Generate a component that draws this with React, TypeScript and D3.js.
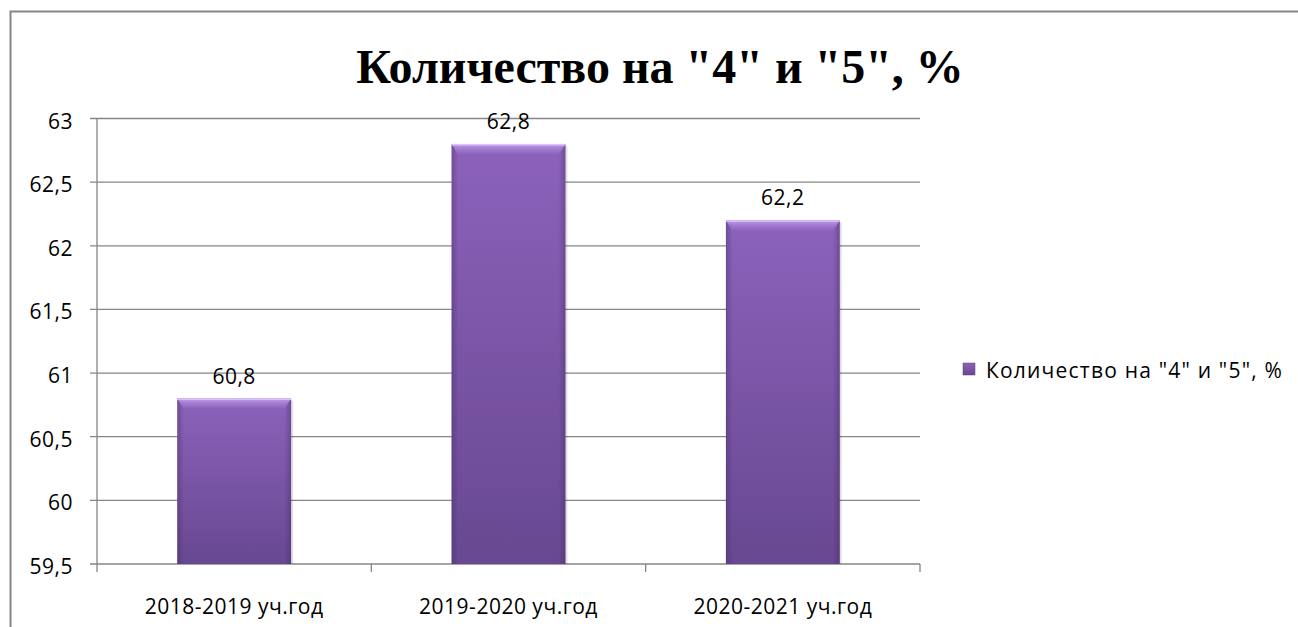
import React from "react";
import * as d3 from "d3";

const categories: string[] = ["2018-2019 уч.год", "2019-2020 уч.год", "2020-2021 уч.год"];
const values: number[] = [60.8, 62.8, 62.2];
const yTicks: number[] = [59.5, 60, 60.5, 61, 61.5, 62, 62.5, 63];
const seriesName = 'Количество на "4" и "5", %';
const title = 'Количество на "4" и "5", %';

const W = 1298;
const H = 627;
const font = "'Open Sans', sans-serif";
const fs = 21;
const ls = 0.5;
const fmt = (v: number) => String(v).replace(".", ",");

export default function App() {
  const left = 97;
  const right = 920;
  const top = 118.5;
  const bottom = 564;
  const x = d3.scaleBand<string>().domain(categories).range([left, right]).paddingInner(0.585).paddingOuter(0.2925);
  const xb = d3.scaleBand<string>().domain(categories).range([left, right]);
  const y = d3.scaleLinear().domain([59.5, 63]).range([bottom, top]);
  const bw = x.bandwidth();

  return (
    <div style={{ position: "absolute", left: 0, top: 0 }}>
      <svg width={W} height={H} style={{ display: "block" }}>
        <defs>
          <linearGradient id="barV" x1="0" y1="0" x2="0" y2="1">
            <stop offset="0" stopColor="#8c62bb" />
            <stop offset="1" stopColor="#684891" />
          </linearGradient>
          <linearGradient id="barH" x1="0" y1="0" x2="1" y2="0">
            <stop offset="0" stopColor="#3c2458" stopOpacity="0.35" />
            <stop offset="0.06" stopColor="#3c2458" stopOpacity="0" />
            <stop offset="0.94" stopColor="#3c2458" stopOpacity="0" />
            <stop offset="1" stopColor="#3c2458" stopOpacity="0.35" />
          </linearGradient>
          <linearGradient id="bevel" x1="0" y1="0" x2="0" y2="1">
            <stop offset="0" stopColor="#c8a8f0" stopOpacity="0.9" />
            <stop offset="1" stopColor="#a27ad6" stopOpacity="0.2" />
          </linearGradient>
        </defs>
        <rect x={0} y={0} width={W} height={H} fill="#ffffff" />
        <path d={`M10.5,${H} L10.5,11.5 L${W},11.5`} fill="none" stroke="#868686" strokeWidth={2} />
        <text x={660} y={83} textAnchor="middle" fontFamily="'Liberation Serif', 'Times New Roman', serif" fontWeight="bold" fontSize={48} fill="#000">
          {title}
        </text>
        {yTicks.map((t) => (
          <g key={t}>
            <line x1={left - 7} x2={right} y1={y(t)} y2={y(t)} stroke="#868686" strokeWidth={1.3} />
            <text x={left - 24} y={y(t) + 2} textAnchor="end" dominantBaseline="central" fontFamily={font} fontSize={fs} letterSpacing={ls} fill="#000">
              {fmt(t)}
            </text>
          </g>
        ))}
        <line x1={left} x2={left} y1={top} y2={bottom} stroke="#868686" strokeWidth={1.3} />
        {[left, ...categories.map((c) => (xb(c) as number) + xb.bandwidth())].map((px, i) => (
          <line key={i} x1={px} x2={px} y1={bottom} y2={bottom + 8} stroke="#868686" strokeWidth={1.3} />
        ))}
        {categories.map((c, i) => {
          const bx = x(c) as number;
          const by = y(values[i]);
          const bh = bottom - by;
          return (
            <g key={c}>
              <rect x={bx + 2} y={by + 2} width={bw} height={bh - 2} fill="#000" opacity={0.12} />
              <rect x={bx} y={by} width={bw} height={bh} fill="url(#barV)" />
              <rect x={bx} y={by} width={bw} height={bh} fill="url(#barH)" />
              <path
                d={`M${bx},${by} L${bx + bw},${by} L${bx + bw - 6},${by + 10} L${bx + 6},${by + 10} Z`}
                fill="url(#bevel)"
              />
              <rect x={bx} y={by} width={bw} height={1.5} fill="#d9c4f5" />
              <text x={bx + bw / 2} y={by - 23} textAnchor="middle" dominantBaseline="central" fontFamily={font} fontSize={fs} letterSpacing={ls} fill="#000">
                {fmt(values[i])}
              </text>
              <text x={(xb(c) as number) + xb.bandwidth() / 2} y={606} textAnchor="middle" dominantBaseline="central" fontFamily={font} fontSize={fs} letterSpacing={ls} fill="#000">
                {c}
              </text>
            </g>
          );
        })}
        <rect x={963} y={363} width={12} height={12} fill="url(#barV)" stroke="#5a3d80" strokeWidth={0.5} />
        <text x={986} y={370} dominantBaseline="central" fontFamily={font} fontSize={fs} letterSpacing={1.2} fill="#000">
          {seriesName}
        </text>
      </svg>
    </div>
  );
}
